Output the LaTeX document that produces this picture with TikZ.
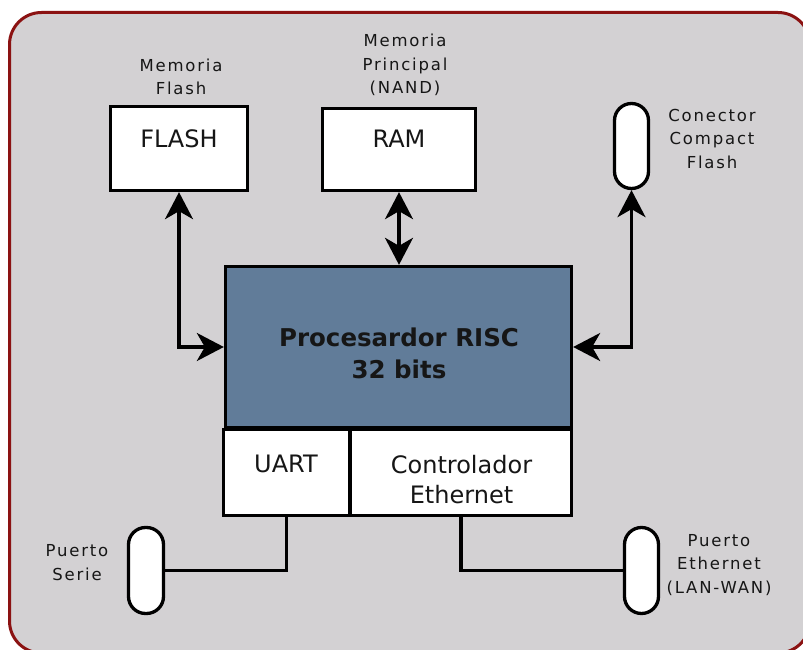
\documentclass[tikz,border=0pt]{standalone}
\usepackage{fontspec}
\setmainfont{DejaVu Sans}
\newfontfamily\lblfont[LetterSpace=11]{DejaVu Sans}
\usetikzlibrary{arrows.meta}
\definecolor{bgfill}{RGB}{211,209,211}
\definecolor{bgline}{RGB}{139,18,18}
\definecolor{cpufill}{RGB}{97,124,153}
\definecolor{ink}{RGB}{22,22,22}
\begin{document}
\begin{tikzpicture}[x=1pt,y=-1pt,
  box/.style={draw=black, line width=3.3pt, fill=white, rectangle, inner sep=0pt},
  pill/.style={draw=black, line width=3.3pt, fill=white, rectangle, rounded corners=17pt, inner sep=0pt},
  lbl/.style={font=\lblfont\fontsize{16.5}{23.5}\selectfont, text=ink, align=center, anchor=base, inner sep=0pt},
  btxt/.style={font=\fontsize{24}{30}\selectfont, text=ink, align=center, anchor=base, inner sep=0pt},
  ctxt/.style={font=\bfseries\fontsize{24.5}{32}\selectfont, text=ink, align=center, anchor=base, inner sep=0pt},
  link/.style={draw=black, line width=3.3pt},
  biarrow/.style={link, {Stealth[length=27pt,width=28pt,inset=8pt]}-{Stealth[length=27pt,width=28pt,inset=8pt]}}
]
\useasboundingbox (0,0) rectangle (803,650);
\clip (0,0) rectangle (803,650);
\draw[draw=bgline, fill=bgfill, line width=3pt, rounded corners=32pt] (9.5,12.5) rectangle (810,653);

% boxes
\node[box, minimum width=137pt, minimum height=84pt] (flash) at (179,148.5) {};
\node[box, minimum width=153pt, minimum height=82pt] (ram) at (399,149.5) {};
\node[box, fill=cpufill, minimum width=346pt, minimum height=161pt] (cpu) at (398.5,347) {};
\node[box, minimum width=126pt, minimum height=86pt] (uart) at (286.5,472.5) {};
\node[box, minimum width=221pt, minimum height=86pt] (ethc) at (461,472.5) {};
\node[pill, minimum width=34pt, minimum height=85pt] (cf) at (631.5,146) {};
\node[pill, minimum width=35pt, minimum height=86pt] (serie) at (146,570.5) {};
\node[pill, minimum width=34pt, minimum height=86pt] (ethp) at (641.5,570.5) {};

% box texts (base anchor = baseline of the last line)
\node[btxt] (tflash) at (179,148) {FLASH};
\node[btxt] (tram) at (399,148) {RAM};
\node[ctxt] (tcpu) at (399,378) {Procesardor RISC\\32 bits};
\node[btxt] (tuart) at (286,472) {UART};
\node[btxt] (tethc) at (461.5,503) {Controlador\\Ethernet};

% labels
\node[lbl] (lflash) at (181,95) {Memoria\\Flash};
\node[lbl] (lram) at (405,94) {Memoria\\Principal\\(NAND)};
\node[lbl] (lcf) at (712,168) {Conector\\Compact\\Flash};
\node[lbl] (lserie) at (77,580) {Puerto\\Serie};
\node[lbl] (lethp) at (719,593) {Puerto\\Ethernet\\(LAN-WAN)};

% connectors
\draw[biarrow] (flash.south) |- (cpu.west);
\draw[biarrow] (ram.south) -- (ram.south |- cpu.north);
\draw[biarrow] (cf.south) |- (cpu.east);
\draw[link] (uart.south) |- (serie.east);
\draw[link] (ethc.south) |- (ethp.west);
\end{tikzpicture}
\end{document}
